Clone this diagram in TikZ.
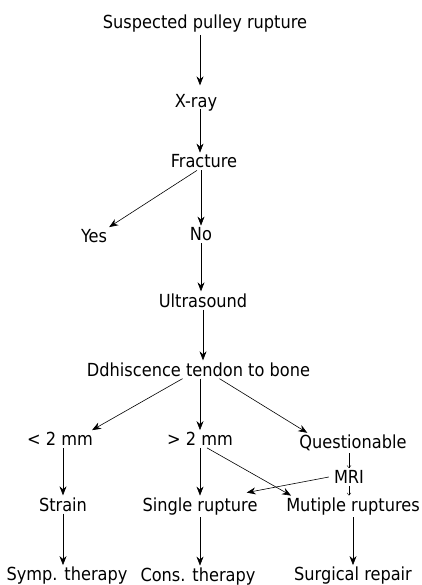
\documentclass[tikz,border=0pt]{standalone}
\usepackage{fontspec}
\setmainfont{DejaVu Sans Condensed}
\usetikzlibrary{arrows.meta}

\begin{document}
\begin{tikzpicture}[x=1pt,y=-1pt,
  lbl/.style={inner sep=2pt,font=\fontsize{18}{20}\selectfont},
  arr/.style={-{Stealth[length=9pt,width=7pt]},line width=0.6pt},
  sarr/.style={-{Straight Barb[length=2.5pt,width=4pt]},line width=0.4pt}]
 \useasboundingbox (0,0) rectangle (422,585);
 \coordinate (spine) at (200,0);
 \node[lbl] (susp) at (205,24) {Suspected pulley rupture};
 \node[lbl] (xray) at (196,103) {X-ray};
 \node[lbl] (frac) at (204,161.5) {Fracture};
 \node[lbl] (yes) at (94,236) {Yes};
 \node[lbl] (no) at (201,234.5) {No};
 \node[lbl] (us) at (203,300.5) {Ultrasound};
 \node[lbl] (dd) at (198.5,369.5) {Ddhiscence tendon to bone};
 \node[lbl] (lt) at (60,439) {< 2 mm};
 \node[lbl] (gt) at (200,439) {> 2 mm};
 \node[lbl] (quest) at (353,443) {Questionable};
 \node[lbl] (mri) at (349,477) {MRI};
 \node[lbl] (strain) at (63,504.5) {Strain};
 \node[lbl] (single) at (200,506.5) {Single rupture};
 \node[lbl] (multi) at (353,506.5) {Mutiple ruptures};
 \node[lbl] (symp) at (67,576) {Symp. therapy};
 \node[lbl] (cons) at (198,576.5) {Cons. therapy};
 \node[lbl] (surg) at (353,576) {Surgical repair};
 % main chain
 \draw[arr,shorten >=7pt] (susp.south -| spine) -- (xray.north -| spine);
 \draw[arr] ([yshift=5pt]xray.south -| spine) -- (frac.north -| spine);
 \draw[arr] ([xshift=-7pt]frac.south) -- (yes.north east);
 \draw[arr] (frac.south -| no) -- (no);
 \draw[arr] (no.south) -- (no.south |- us.north);
 \draw[arr] (us) -- (us.north |- dd.north);
 % three branches
 \draw[arr] ([xshift=-16pt]dd.south) -- ([xshift=-3pt]lt.north east);
 \draw[arr] (gt.north |- dd.south) -- (gt.north);
 \draw[arr] ([xshift=21pt]dd.south) -- ([xshift=10pt]quest.north west);
 \draw[arr] (strain.north |- lt.south) -- (strain.north);
 \draw[arr] (gt.south) -- (single.north);
 \draw[arr] ([xshift=7pt]gt.south) -- ([xshift=7pt]multi.north west);
 \draw[sarr] (quest.south -| mri) -- (mri.north);
 \draw[arr] ([xshift=-3pt]mri.west) -- ([xshift=-13pt,yshift=3pt]single.north east);
 \draw[sarr] (mri.south) -- (mri.south |- multi.north);
 \draw[arr] (strain.south) -- (strain.south |- symp.north);
 \draw[arr] (single.south) -- (single.south |- cons.north);
 \draw[arr] (multi.south) -- (surg.north);
\end{tikzpicture}
\end{document}
